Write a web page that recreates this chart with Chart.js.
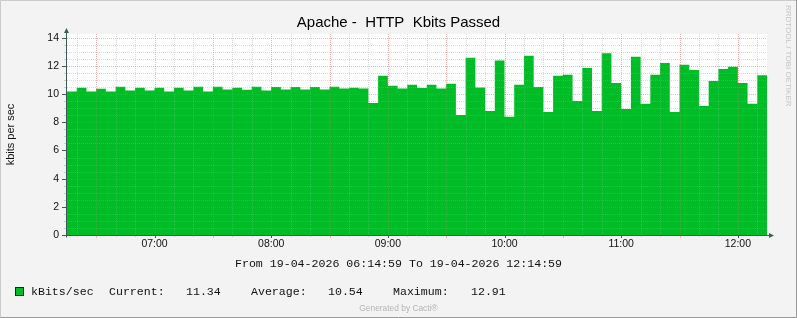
<!DOCTYPE html>
<html>
<head>
<meta charset="utf-8">
<title>Apache - HTTP Kbits Passed</title>
<script src="https://cdn.jsdelivr.net/npm/chart.js@4.4.1/dist/chart.umd.min.js"></script>
<style>
  html, body { margin: 0; padding: 0; background: #f3f3f3; }
  #wrap { width: 797px; height: 318px; }
  canvas { display: block; }
</style>
</head>
<body>
<div id="wrap"><canvas id="rrdChart" width="797" height="318"></canvas></div>

<script>
/* ── Data (5 minute averages, 06:14:59 → 12:14:59) ── */
const startMinute = 6 * 60 + 14 + 59 / 60;
const stepMinutes = 5;
const kbitsPerSec = [
    10.19, 10.45, 10.19, 10.38, 10.19, 10.52, 10.26, 10.45, 10.26, 10.45, 10.19, 10.45,
    10.26, 10.52, 10.19, 10.52, 10.33, 10.45, 10.31, 10.52, 10.26, 10.50, 10.33, 10.50,
    10.33, 10.50, 10.33, 10.52, 10.40, 10.45, 10.40,  9.38, 11.31, 10.60, 10.40, 10.67,
    10.44, 10.66, 10.40, 10.73,  8.52, 12.58, 10.47,  8.81, 12.39,  8.40, 10.66, 12.72,
    10.51,  8.74, 11.30, 11.37,  9.52, 11.86,  8.81, 12.91, 10.80,  8.95, 12.65,  9.31,
    11.37, 12.22,  8.74, 12.08, 11.72,  9.16, 10.94, 11.79, 11.94, 10.80,  9.31, 11.34
];
const hourTickMinutes = [420, 480, 540, 600, 660, 720];
const hourTickLabels  = ['07:00', '08:00', '09:00', '10:00', '11:00', '12:00'];
const yTickLabels     = [0, 2, 4, 6, 8, 10, 12, 14];
const legendStats     = ['Current:', '11.34', 'Average:', '10.54', 'Maximum:', '12.91'];

const GREEN = '#00BD27';
const AXIS  = '#3b5b55';

/* step points + closing point so the last 5 minutes get drawn */
const points = kbitsPerSec.map((v, i) => ({ x: startMinute + i * stepMinutes, y: v }));
points.push({ x: startMinute + kbitsPerSec.length * stepMinutes, y: kbitsPerSec[kbitsPerSec.length - 1] });


/* ============================================================
   rrdtool look — canvas backgrounds, dotted grid, axes with
   arrows, footer texts
   ============================================================ */
function drawGrid(chart, minor, major, withTicks) {
    const { ctx, chartArea: a, scales } = chart;
    ctx.save();
    ctx.lineWidth = 1;

    scales.y.ticks.forEach(t => {
        const y = Math.round(scales.y.getPixelForValue(t.value)) + 0.5;
        const isMajor = yTickLabels.includes(t.value);
        if (t.value > 0) {
            ctx.setLineDash([1, 1]);
            ctx.strokeStyle = isMajor ? major : minor;
            ctx.beginPath(); ctx.moveTo(a.left, y); ctx.lineTo(a.right, y); ctx.stroke();
        }
        if (withTicks) {
            ctx.setLineDash([]);
            ctx.strokeStyle = isMajor ? AXIS : minor;
            ctx.beginPath(); ctx.moveTo(isMajor ? a.left - 5 : a.left - 3, y); ctx.lineTo(a.left, y); ctx.stroke();
        }
    });

    scales.x.ticks.forEach(t => {
        const x = Math.round(scales.x.getPixelForValue(t.value)) + 0.5;
        const isHour = t.value % 60 === 0;
        const isMajor = t.value % 30 === 0;
        ctx.setLineDash([1, 1]);
        ctx.strokeStyle = isMajor ? major : minor;
        ctx.beginPath(); ctx.moveTo(x, a.top); ctx.lineTo(x, a.bottom); ctx.stroke();
        if (withTicks) {
            ctx.setLineDash([]);
            ctx.strokeStyle = isHour ? AXIS : (isMajor ? major : minor);
            ctx.beginPath(); ctx.moveTo(x, a.bottom); ctx.lineTo(x, a.bottom + (isMajor ? 3 : 2)); ctx.stroke();
        }
    });
    ctx.restore();
}

const rrdLook = {
    id: 'rrdLook',
    beforeDraw(chart) {
        const { ctx, chartArea: a } = chart;
        ctx.save();
        ctx.fillStyle = '#f3f3f3';
        ctx.fillRect(0, 0, chart.width, chart.height);
        ctx.fillStyle = '#ffffff';
        ctx.fillRect(a.left, a.top, a.right - a.left, a.bottom - a.top);
        ctx.restore();
    },
    beforeDatasetsDraw(chart) {
        drawGrid(chart, 'rgba(150,150,150,0.4)', 'rgba(235,80,80,0.4)', true);
    },
    afterDatasetsDraw(chart) {
        // faint grid shining through the area, like rrdtool
        drawGrid(chart, 'rgba(255,255,255,0.13)', 'rgba(255,140,140,0.16)', false);

        const { ctx, chartArea: a } = chart;
        ctx.save();
        ctx.lineWidth = 1;
        ctx.strokeStyle = AXIS;
        ctx.fillStyle = AXIS;
        const ax = a.left - 0.5, ay = a.bottom + 0.5;
        ctx.beginPath(); ctx.moveTo(ax, ay + 2); ctx.lineTo(ax, a.top - 2); ctx.stroke();
        ctx.beginPath(); ctx.moveTo(ax - 3, ay); ctx.lineTo(a.right + 3, ay); ctx.stroke();
        ctx.beginPath();
        ctx.moveTo(ax - 2.5, a.top - 1); ctx.lineTo(ax + 2.5, a.top - 1); ctx.lineTo(ax, a.top - 6);
        ctx.closePath(); ctx.fill();
        ctx.beginPath();
        ctx.moveTo(a.right + 2, ay - 2.5); ctx.lineTo(a.right + 2, ay + 2.5); ctx.lineTo(a.right + 7, ay);
        ctx.closePath(); ctx.fill();
        ctx.restore();
    },
    afterDraw(chart) {
        const ctx = chart.ctx;
        const W = chart.width, H = chart.height;
        ctx.save();

        // frame
        ctx.lineWidth = 1;
        ctx.strokeStyle = '#cbcbcb';
        ctx.beginPath(); ctx.moveTo(0.5, H); ctx.lineTo(0.5, 0.5); ctx.lineTo(W, 0.5); ctx.stroke();
        ctx.strokeStyle = '#999999';
        ctx.beginPath(); ctx.moveTo(0.5, H - 0.5); ctx.lineTo(W - 0.5, H - 0.5); ctx.lineTo(W - 0.5, 0); ctx.stroke();

        // side watermark
        ctx.save();
        ctx.translate(786, 5);
        ctx.rotate(Math.PI / 2);
        ctx.font = '8px "Liberation Sans"';
        ctx.fillStyle = '#c4c4c4';
        ctx.textBaseline = 'alphabetic';
        ctx.fillText('RRDTOOL / TOBI OETIKER', 0, 0);
        ctx.restore();

        // period line
        ctx.font = '11.6px "Liberation Mono"';
        ctx.fillStyle = '#111';
        ctx.textBaseline = 'alphabetic';
        ctx.textAlign = 'center';
        ctx.fillText('From 19-04-2026 06:14:59 To 19-04-2026 12:14:59', 398.5, 267);

        // legend
        ctx.fillStyle = GREEN;
        ctx.fillRect(15, 288, 8, 8);
        ctx.strokeStyle = '#222';
        ctx.strokeRect(15.5, 287.5, 8, 8);
        ctx.fillStyle = '#111';
        ctx.textAlign = 'left';
        ctx.fillText('kBits/sec', 31, 295);
        const statX = [109, 186, 251, 328, 393, 471];
        legendStats.forEach((s, i) => ctx.fillText(s, statX[i], 295));

        // footer
        ctx.font = '8.4px "Liberation Sans"';
        ctx.fillStyle = '#b4b4b4';
        ctx.textAlign = 'center';
        ctx.fillText('Generated by Cacti®', 398.5, 311);
        ctx.restore();
    }
};


/* ============================================================
   CHART — Apache HTTP kbits (stepped area)
   ============================================================ */
new Chart(document.getElementById('rrdChart'), {
    type: 'line',
    data: {
        datasets: [{
            label: 'kBits/sec',
            data: points,
            stepped: 'before',
            fill: 'origin',
            backgroundColor: GREEN,
            borderWidth: 0,
            borderColor: GREEN,
            pointRadius: 0
        }]
    },
    plugins: [rrdLook],
    options: {
        responsive: false,
        animation: false,
        devicePixelRatio: 1,
        layout: { padding: 0 },
        plugins: {
            legend: { display: false },
            tooltip: { enabled: false },
            title: {
                display: true,
                text: 'Apache -  HTTP  Kbits Passed',
                color: '#000',
                font: { family: 'Liberation Sans', size: 15, weight: 'normal', lineHeight: 1.2 },
                padding: { top: 14, bottom: 2 }
            }
        },
        scales: {
            x: {
                type: 'linear',
                min: startMinute,
                max: startMinute + kbitsPerSec.length * stepMinutes,
                afterBuildTicks: scale => {
                    const ticks = [];
                    for (let m = Math.ceil(scale.min / 10) * 10; m <= scale.max; m += 10) ticks.push({ value: m });
                    scale.ticks = ticks;
                },
                afterFit: scale => { scale.height = 83; },
                grid: { display: false, drawTicks: false },
                border: { display: false },
                ticks: {
                    autoSkip: false,
                    maxRotation: 0,
                    padding: 3,
                    color: '#111',
                    font: { family: 'Liberation Sans', size: 10.5 },
                    callback: v => {
                        const i = hourTickMinutes.indexOf(v);
                        return i >= 0 ? hourTickLabels[i] : '';
                    }
                }
            },
            y: {
                min: 0,
                max: 14.27,
                afterBuildTicks: scale => {
                    const ticks = [];
                    for (let v = 0; v <= 14; v += 0.5) ticks.push({ value: v });
                    scale.ticks = ticks;
                },
                afterFit: scale => { scale.width = 67; },
                grid: { display: false, drawTicks: false },
                border: { display: false },
                title: {
                    display: true,
                    text: 'kbits per sec',
                    color: '#111',
                    font: { family: 'Liberation Sans', size: 11 },
                    padding: { top: 4, bottom: 0 }
                },
                ticks: {
                    autoSkip: false,
                    padding: 8,
                    color: '#111',
                    font: { family: 'Liberation Sans', size: 10.5 },
                    callback: v => (yTickLabels.includes(v) ? String(v) : '')
                }
            },
            pad: {
                position: 'right',
                afterFit: scale => { scale.width = 30; },
                grid: { display: false, drawTicks: false },
                border: { display: false },
                ticks: { display: false }
            }
        }
    }
});
</script>
</body>
</html>
